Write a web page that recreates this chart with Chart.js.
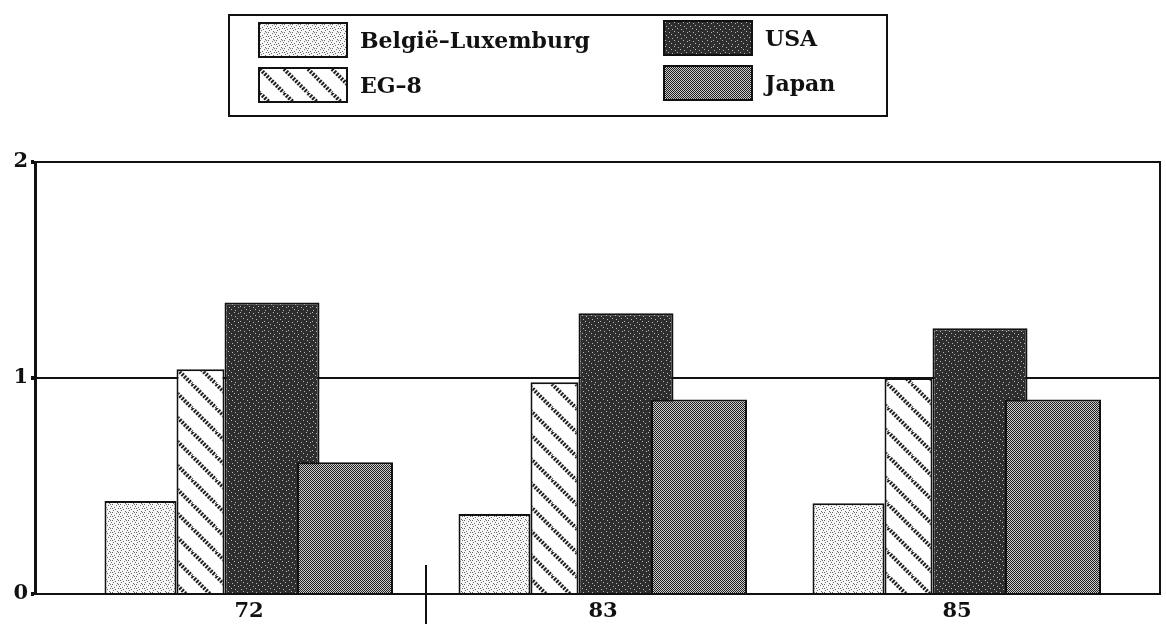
<!DOCTYPE html>
<html>
<head>
<meta charset="utf-8">
<script src="https://cdn.jsdelivr.net/npm/chart.js@4.4.0/dist/chart.umd.min.js"></script>
<style>
  html, body { margin: 0; padding: 0; background: #fff; }
  #wrap { position: relative; width: 1166px; height: 624px; }
  #legend {
    position: absolute; left: 228px; top: 14px; width: 656px; height: 99px;
    border: 2px solid #111;
    font-family: 'DejaVu Serif', serif; font-weight: bold; font-size: 22px; color: #111;
  }
  .item { position: absolute; display: flex; align-items: center; height: 36px; }
  .item canvas { border: 2px solid #111; margin-right: 12px; display: block; }
</style>
</head>
<body>
<div id="wrap">
  <canvas id="chart" width="1166" height="624"></canvas>
  <div id="legend"></div>
</div>
<script>
const categories = ['72', '83', '85'];
const seriesNames = ['België–Luxemburg', 'EG–8', 'USA', 'Japan'];
const belgieLux = [0.43, 0.37, 0.42];
const eg8 = [1.04, 0.98, 1.00];
const usa = [1.35, 1.30, 1.23];
const japan = [0.61, 0.90, 0.90];
const yTicks = [0, 1, 2];

const ink = '#111';
const serif = { family: 'DejaVu Serif', weight: 'bold', size: 21 };

function tile(size, draw) {
  const c = document.createElement('canvas');
  c.width = size; c.height = size;
  draw(c.getContext('2d'), size);
  return c;
}

// halftone-ish fills copied by eye from the printed chart
const stipple = [[0, 0], [4, 1], [2, 3], [6, 4], [1, 6], [5, 7], [3, 5], [7, 2], [6, 0], [0, 4]];
const tiles = {
  bel: tile(8, (g, n) => {
    g.fillStyle = '#f6f6f6'; g.fillRect(0, 0, n, n);
    g.fillStyle = '#6a6a6a';
    stipple.forEach(([i, j]) => g.fillRect(i, j, 1, 1));
  }),
  eg: tile(24, (g, n) => {
    g.fillStyle = '#fff'; g.fillRect(0, 0, n, n);
    g.strokeStyle = '#222'; g.lineWidth = 4;
    g.setLineDash([2, 1.3]);
    [-n, 0, n].forEach(o => { g.beginPath(); g.moveTo(o, 0); g.lineTo(o + n, n); g.stroke(); });
  }),
  usa: tile(24, (g, n) => {
    g.fillStyle = '#2e2e2e'; g.fillRect(0, 0, n, n);
    g.fillStyle = '#b8b8b8';
    for (let i = 0; i < n; i++) for (let j = 0; j < n; j++)
      if ((i * 13 + j * 7 + i * j) % 9 === 0) g.fillRect(i, j, 1, 1);
  }),
  jap: tile(2, (g) => {
    g.fillStyle = '#cccccc'; g.fillRect(0, 0, 2, 2);
    g.fillStyle = '#1e1e1e'; g.fillRect(0, 0, 1, 1); g.fillRect(1, 1, 1, 1);
  })
};

const ctx = document.getElementById('chart').getContext('2d');
const fill = k => ctx.createPattern(tiles[k], 'repeat');

// bars in the print have uneven widths and Japan overlaps USA;
// place each bar inside its group through the bar controller's percentages
const GROUP_PX = 354;
function slot(k, offset, width) {
  const size = offset / ((k + 0.5) / 4 - 0.5);
  return { categoryPercentage: size / GROUP_PX, barPercentage: width / (size / 4) };
}

const toPoints = arr => arr.map((v, i) => ({ x: i, y: v }));

const divider = {
  id: 'divider',
  afterDraw(chart) {
    const { ctx, chartArea, scales } = chart;
    const px = scales.x.getPixelForValue(0.5);
    ctx.save();
    ctx.strokeStyle = ink; ctx.lineWidth = 2;
    ctx.beginPath(); ctx.moveTo(px, chartArea.bottom - 29); ctx.lineTo(px, chart.height); ctx.stroke();
    ctx.restore();
  }
};

const chart = new Chart(ctx, {
  type: 'bar',
  data: {
    datasets: [
      { label: seriesNames[0], data: toPoints(belgieLux), backgroundColor: fill('bel'), borderColor: ink, borderWidth: 2, ...slot(0, -108.5, 72) },
      { label: seriesNames[1], data: toPoints(eg8), backgroundColor: fill('eg'), borderColor: ink, borderWidth: 2, ...slot(1, -48.5, 48) },
      { label: seriesNames[3], data: toPoints(japan), backgroundColor: fill('jap'), borderColor: ink, borderWidth: 2, ...slot(2, 96, 96) },
      { label: seriesNames[2], data: toPoints(usa), backgroundColor: fill('usa'), borderColor: ink, borderWidth: 2, ...slot(3, 23, 95) }
    ]
  },
  options: {
    responsive: false, animation: false,
    layout: { padding: { top: 162, right: 6, bottom: 0, left: 0 } },
    plugins: { legend: { display: false }, tooltip: { enabled: false } },
    scales: {
      x: {
        type: 'linear', min: -0.6045, max: 2.5734, offset: false,
        grid: { display: false, drawTicks: false },
        border: { color: ink, width: 2 },
        afterBuildTicks: s => { s.ticks = categories.map((c, i) => ({ value: i })); },
        afterFit: s => { s.height = 30; },
        ticks: { callback: v => categories[v], font: serif, color: ink, padding: 5, maxRotation: 0, autoSkip: false }
      },
      y: {
        min: 0, max: 2,
        afterBuildTicks: s => { s.ticks = yTicks.map(v => ({ value: v })); },
        afterFit: s => { s.width = 35; },
        grid: { color: ink, lineWidth: 2, tickLength: 4, tickWidth: 4 },
        border: { color: ink, width: 3 },
        ticks: { font: serif, color: ink, padding: 3 }
      },
      yr: {
        position: 'right', min: 0, max: 2,
        grid: { display: false, drawTicks: false },
        ticks: { display: false },
        border: { color: ink, width: 2 },
        afterFit: s => { s.width = 0; }
      }
    }
  },
  plugins: [divider]
});

// legend laid out in two columns like the print
const legendSpots = [
  { name: seriesNames[0], key: 'bel', left: 28, top: 6 },
  { name: seriesNames[1], key: 'eg', left: 28, top: 51 },
  { name: seriesNames[2], key: 'usa', left: 433, top: 4 },
  { name: seriesNames[3], key: 'jap', left: 433, top: 49 }
];
const legendBox = document.getElementById('legend');
legendSpots.forEach(s => {
  const item = document.createElement('div');
  item.className = 'item';
  item.style.left = s.left + 'px';
  item.style.top = s.top + 'px';
  const sw = document.createElement('canvas');
  sw.width = 86; sw.height = 32;
  const g = sw.getContext('2d');
  g.fillStyle = g.createPattern(tiles[s.key], 'repeat');
  g.fillRect(0, 0, sw.width, sw.height);
  const label = document.createElement('span');
  label.textContent = s.name;
  item.appendChild(sw);
  item.appendChild(label);
  legendBox.appendChild(item);
});
</script>
</body>
</html>
